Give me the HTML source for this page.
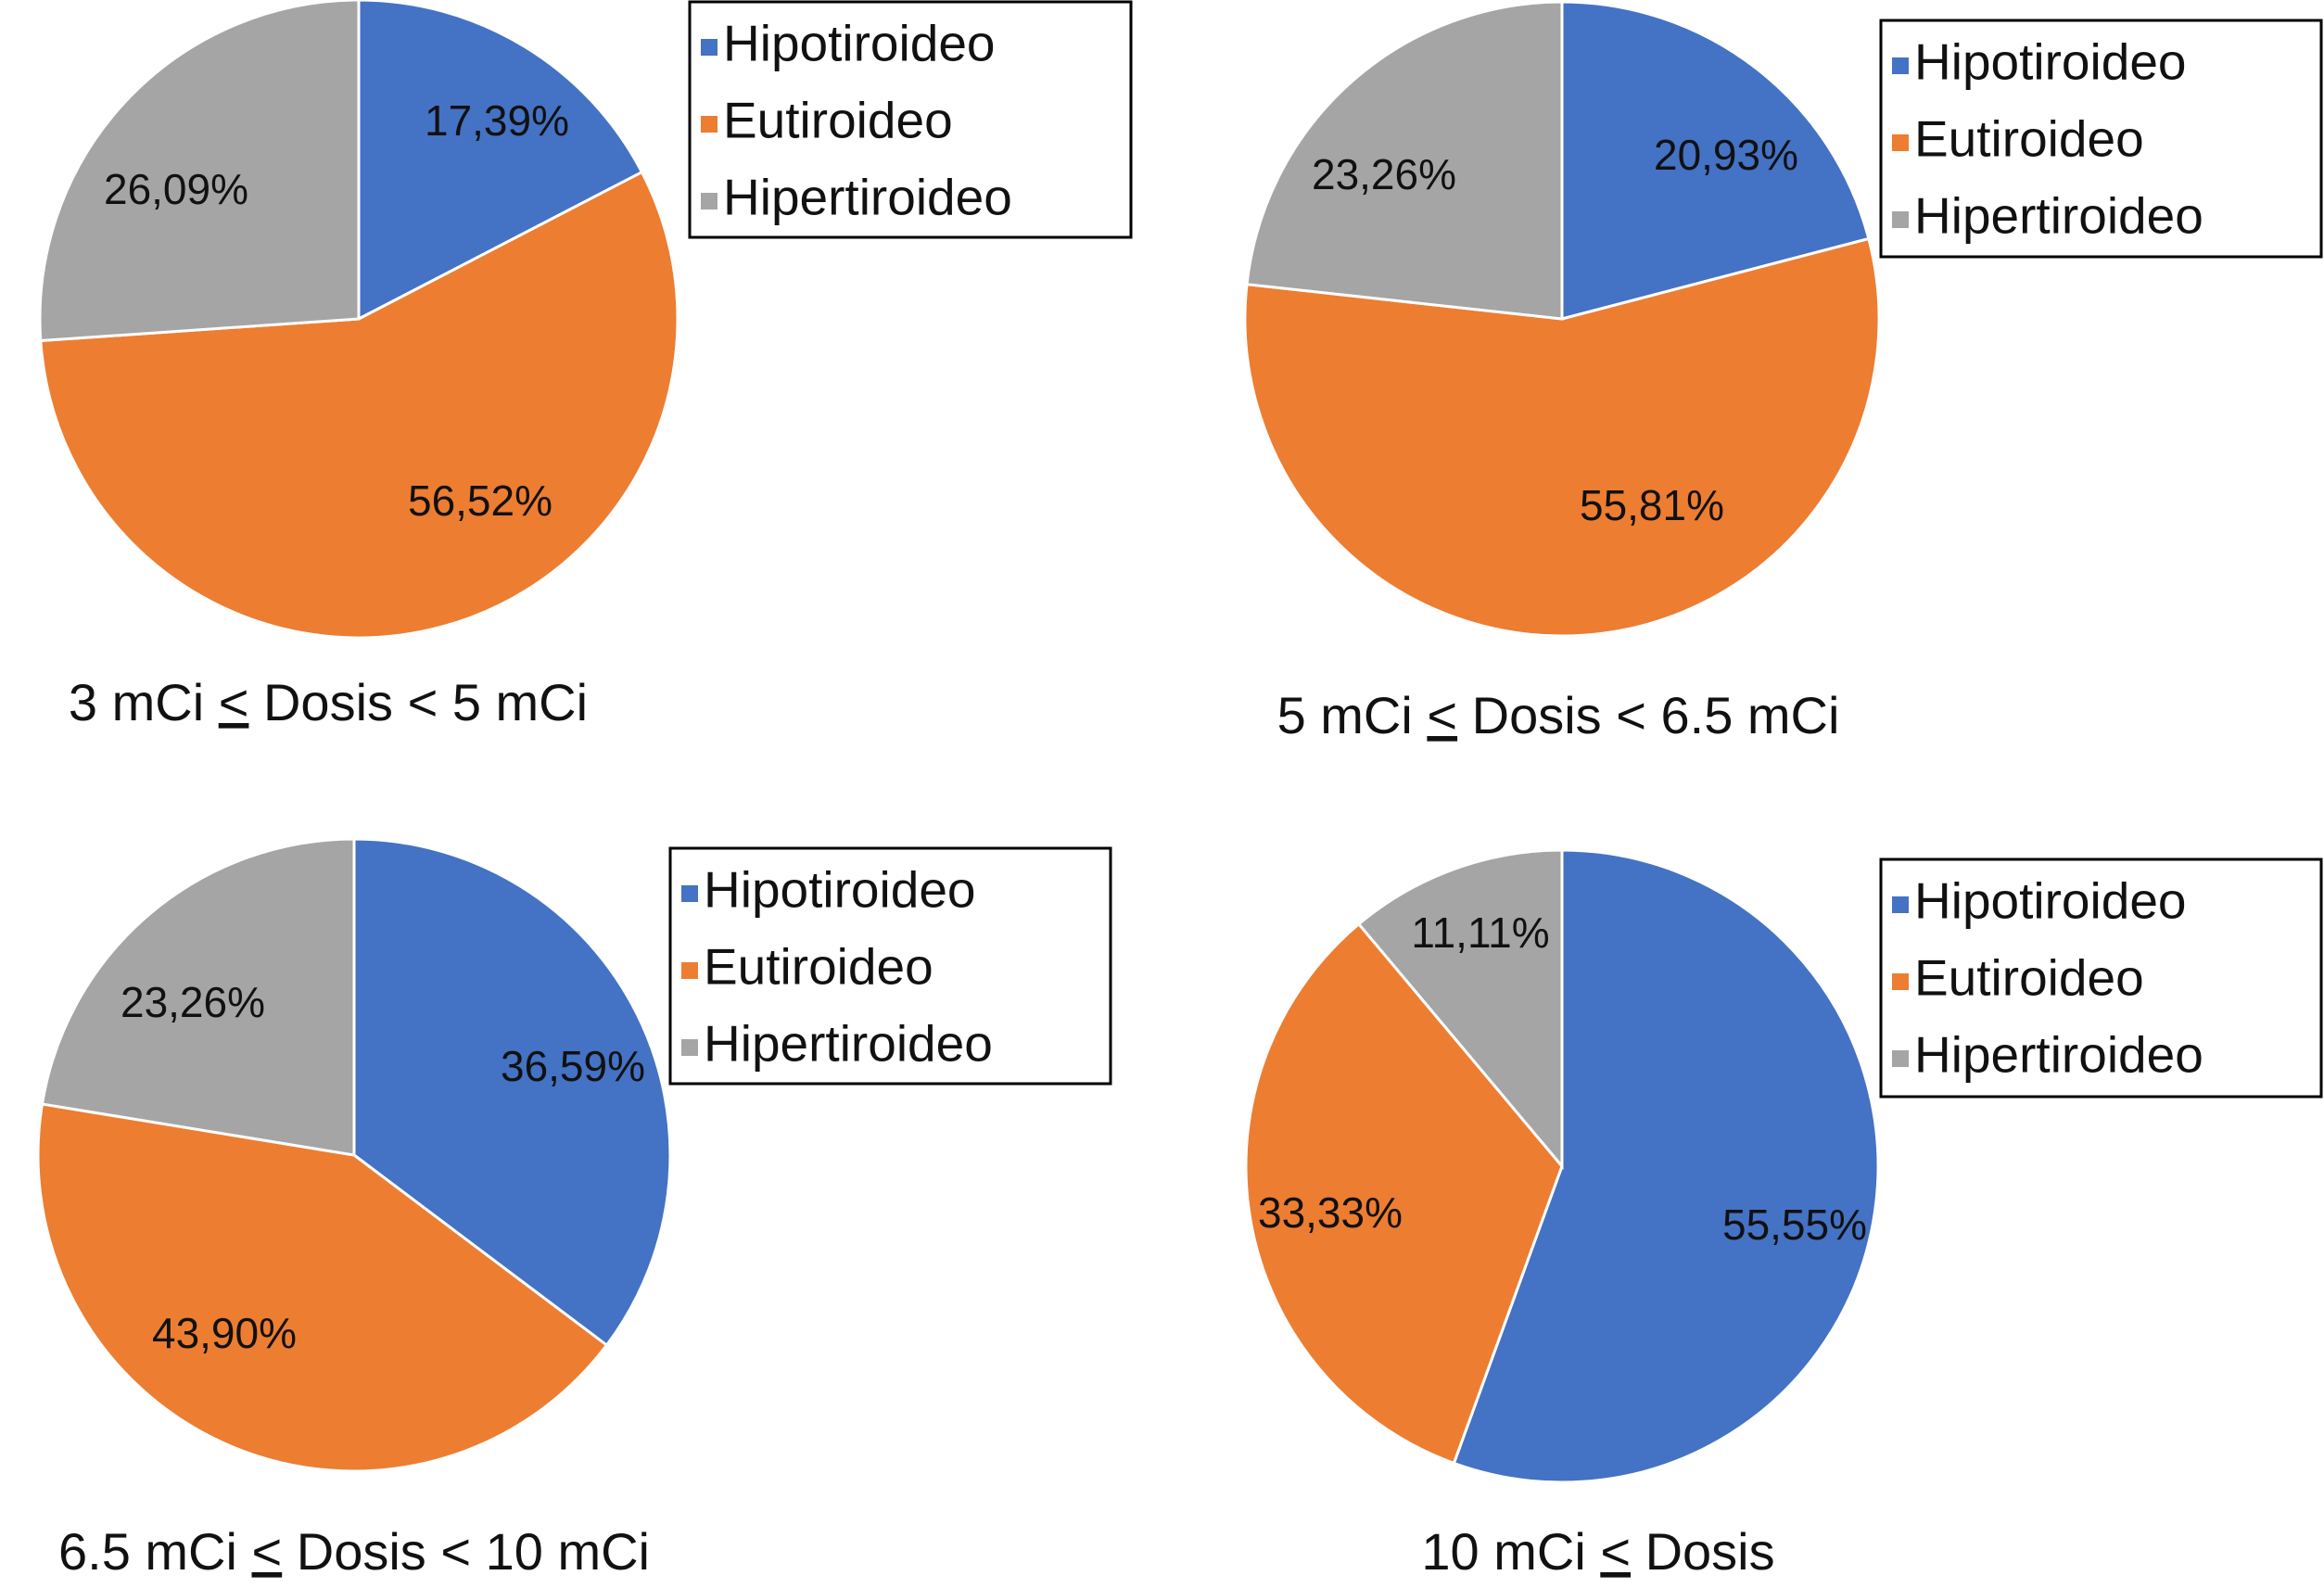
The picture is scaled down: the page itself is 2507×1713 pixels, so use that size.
<!DOCTYPE html>
<html><head><meta charset="utf-8"><style>
html,body{margin:0;padding:0;background:#fff;}
body{width:2507px;height:1708px;overflow:hidden;font-family:"Liberation Sans",Arial,sans-serif;}
svg text{font-family:"Liberation Sans",Arial,sans-serif;}
</style></head><body>
<svg id="c" width="2507" height="1708" viewBox="0 0 2507 1708" xmlns="http://www.w3.org/2000/svg"></svg>
<script>
const categories = ["Hipotiroideo","Eutiroideo","Hipertiroideo"];
const colors = ["#4472C4","#ED7D31","#A5A5A5"];
const valuesA = [17.39,56.52,26.09];
const valuesB = [20.93,55.81,23.26];
const valuesC = [36.59,43.90,23.26];
const valuesD = [55.55,33.33,11.11];
const labelsA = ["17,39%","56,52%","26,09%"];
const labelsB = ["20,93%","55,81%","23,26%"];
const labelsC = ["36,59%","43,90%","23,26%"];
const labelsD = ["55,55%","33,33%","11,11%"];
const titles = ["3 mCi ","5 mCi ","6.5 mCi ","10 mCi "];
const titleTails = [" Dosis < 5 mCi"," Dosis < 6.5 mCi"," Dosis < 10 mCi"," Dosis"];

const layout = [
 {cx:387,cy:344,r:344,vals:valuesA,labs:labelsA,lp:[[536,134],[518,544],[190,208]],lg:[744,2,476,254],tt:[354,762]},
 {cx:1685,cy:344,r:342,vals:valuesB,labs:labelsB,lp:[[1862,171],[1782,549],[1493,192]],lg:[2029,22,475,255],tt:[1681,776]},
 {cx:382,cy:1246,r:341,vals:valuesC,labs:labelsC,lp:[[618,1154],[242,1442],[208,1085]],lg:[723,915,475,254],tt:[382,1678]},
 {cx:1685,cy:1258,r:341,vals:valuesD,labs:labelsD,lp:[[1936,1325],[1435,1312],[1597,1010]],lg:[2029,927,475,256],tt:[1724,1678]}
];
const NS="http://www.w3.org/2000/svg";
const svg=document.getElementById('c');
function mk(t,a,p){const e=document.createElementNS(NS,t);for(const k in a)e.setAttribute(k,a[k]);(p||svg).appendChild(e);return e;}
function pt(cx,cy,r,f){const a=f*2*Math.PI-Math.PI/2;return [cx+r*Math.cos(a),cy+r*Math.sin(a)];}
layout.forEach((L,i)=>{
  const g=mk('g',{});
  
  
  const tot=L.vals.reduce((s,v)=>s+v,0);
  let acc=0;
  L.vals.forEach((v,j)=>{
    const f0=acc/tot, f1=(acc+v)/tot; acc+=v;
    const p0=pt(L.cx,L.cy,L.r,f0), p1=pt(L.cx,L.cy,L.r,f1);
    const large=(f1-f0)>0.5?1:0;
    const s=mk('path',{d:`M${L.cx},${L.cy}L${p0[0]},${p0[1]}A${L.r},${L.r} 0 ${large} 1 ${p1[0]},${p1[1]}Z`,fill:colors[j],stroke:'#fff','stroke-width':3},g);
    
    
  });
  L.labs.forEach((t,j)=>{
    const e=mk('text',{x:L.lp[j][0],y:L.lp[j][1],'font-size':46,'text-anchor':'middle','dominant-baseline':'middle',fill:'#111'},g);
    e.textContent=t;
    
    
  });
  const lg=mk('g',{});
  
  
  mk('rect',{x:L.lg[0],y:L.lg[1],width:L.lg[2],height:L.lg[3],fill:'#fff',stroke:'#000','stroke-width':3},lg);
  categories.forEach((c,j)=>{
    const y=L.lg[1]+49+j*83;
    const it=mk('g',{},lg);
    
    
    mk('rect',{x:L.lg[0]+12,y:y-9,width:18,height:18,fill:colors[j]},it);
    const t=mk('text',{x:L.lg[0]+36,y:y,'font-size':55,'dominant-baseline':'middle',fill:'#111'},it);
    t.textContent=c;
  });
  const tt=mk('text',{x:L.tt[0],y:L.tt[1],'font-size':56,'text-anchor':'middle','dominant-baseline':'middle',fill:'#111'});
  
  
  tt.appendChild(document.createTextNode(titles[i]));
  const u=mk('tspan',{'text-decoration':'underline'},tt);
  u.textContent='<';
  tt.appendChild(document.createTextNode(titleTails[i]));
});
</script>
</body></html>
